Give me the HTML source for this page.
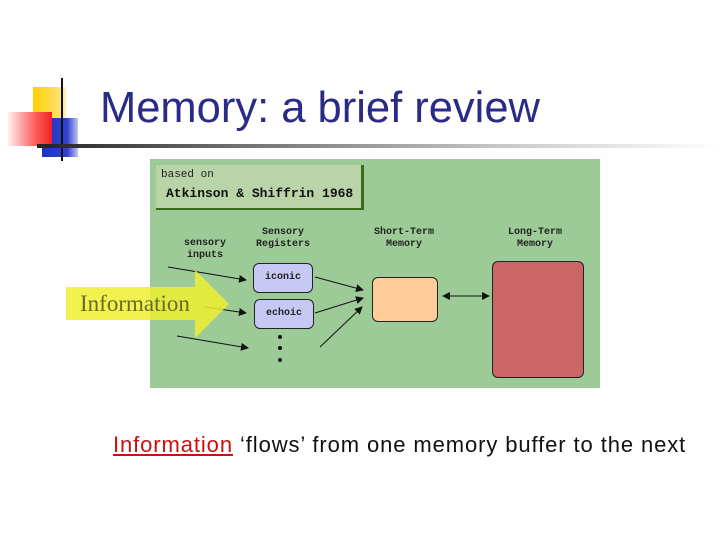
<!DOCTYPE html>
<html><head><style>
body{margin:0;width:720px;height:540px;background:#fff;position:relative;overflow:hidden;font-family:"Liberation Sans",sans-serif}
.a{position:absolute}
.sm{font-family:"Liberation Mono",monospace;font-size:10px;color:#222;text-align:center;line-height:12px;font-weight:bold}
</style></head><body>
<div class="a" style="left:33px;top:87px;width:33px;height:34px;background:linear-gradient(90deg,#ffd000,#ffe070 80%,#fff0c0)"></div>
<div class="a" style="left:42px;top:118px;width:36px;height:39px;background:linear-gradient(90deg,#2030c0,#3040d0 70%,#c0c8f0)"></div>
<div class="a" style="left:8px;top:112px;width:44px;height:34px;background:linear-gradient(90deg,#fff0f0,#ff6060 60%,#f02020)"></div>
<div class="a" style="left:61px;top:78px;width:2px;height:83px;background:#111"></div>
<div class="a" style="left:37px;top:144px;width:683px;height:4px;background:linear-gradient(90deg,#222,#666 25%,#ccc 70%,#fff)"></div>
<div class="a" style="left:100px;top:84px;font-size:43.5px;color:#2a2a88">Memory: a brief review</div>

<div class="a" style="left:150px;top:159px;width:450px;height:229px;background:#9ccb97"></div>
<div class="a" style="left:156px;top:165px;width:205px;height:43px;background:#b8d4a8;border-right:3px solid #3a6a1a;border-bottom:2px solid #3a6a1a"></div>
<div class="a" style="left:161px;top:169px;font-family:'Liberation Mono',monospace;font-size:11px;color:#222">based on</div>
<div class="a" style="left:166px;top:186px;font-family:'Liberation Mono',monospace;font-size:13px;font-weight:bold;color:#111">Atkinson &amp; Shiffrin 1968</div>

<div class="a sm" style="left:170px;top:238px;width:70px">sensory<br>inputs</div>
<div class="a sm" style="left:248px;top:227px;width:70px">Sensory<br>Registers</div>
<div class="a sm" style="left:364px;top:227px;width:80px">Short-Term<br>Memory</div>
<div class="a sm" style="left:495px;top:227px;width:80px">Long-Term<br>Memory</div>

<div class="a sm" style="left:253px;top:263px;width:58px;height:28px;line-height:28px;background:#c8c8f4;border:1px solid #222;border-radius:6px">iconic</div>
<div class="a sm" style="left:254px;top:299px;width:58px;height:28px;line-height:28px;background:#c8c8f4;border:1px solid #222;border-radius:6px">echoic</div>
<div class="a" style="left:372px;top:277px;width:64px;height:43px;background:#ffcc99;border:1px solid #222;border-radius:6px"></div>
<div class="a" style="left:492px;top:261px;width:90px;height:115px;background:#cc6666;border:1px solid #222;border-radius:6px"></div>

<svg class="a" style="left:0;top:0" width="720" height="540">
<defs><marker id="m" markerWidth="8" markerHeight="8" refX="7" refY="4" orient="auto"><path d="M0,0L8,4L0,8z" fill="#111"/></marker>
<marker id="m2" markerWidth="8" markerHeight="8" refX="1" refY="4" orient="auto"><path d="M8,0L0,4L8,8z" fill="#111"/></marker></defs>
<g stroke="#111" stroke-width="1" fill="none" marker-end="url(#m)">
<line x1="168" y1="267" x2="246" y2="280"/>
<line x1="205" y1="307" x2="246" y2="313"/>
<line x1="177" y1="336" x2="248" y2="348"/>
<line x1="315" y1="277" x2="363" y2="290"/>
<line x1="315" y1="313" x2="363" y2="298"/>
<line x1="320" y1="347" x2="362" y2="307"/>
<line x1="443" y1="296" x2="489" y2="296" marker-start="url(#m2)"/>
</g>
<circle cx="280" cy="337" r="2" fill="#111"/><circle cx="280" cy="348" r="2" fill="#111"/><circle cx="280" cy="360" r="2" fill="#111"/>
<path d="M66,287H195V270L229,304L195,338V320H66Z" fill="#eef030" fill-opacity="0.85"/>
</svg>
<div class="a" style="left:80px;top:291px;font-family:'Liberation Serif',serif;font-size:23px;color:#6a6a20">Information</div>

<div class="a" style="left:113px;top:432px;font-size:22px;letter-spacing:0.9px;color:#111;white-space:nowrap"><span style="color:#cc1010;text-decoration:underline">Information</span> ‘flows’ from one memory buffer to the next</div>
</body></html>
